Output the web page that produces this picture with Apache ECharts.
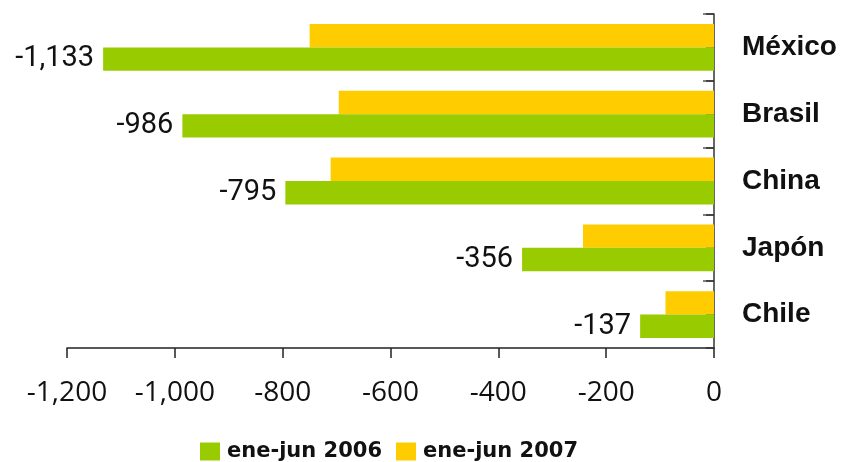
<!DOCTYPE html>
<html>
<head>
<meta charset="utf-8">
<script src="https://cdn.jsdelivr.net/npm/echarts@6/dist/echarts.min.js"></script>
<style>html,body{margin:0;padding:0;background:#fff}#c{width:842px;height:462px}</style>
</head>
<body>
<div id="c"></div>
<script>
const categories = ["México", "Brasil", "China", "Japón", "Chile"];
const series2006 = [-1133, -986, -795, -356, -137];
const series2007 = [-750, -696, -711, -243, -90];
const seriesNames = ["ene-jun 2006", "ene-jun 2007"];
const xTicks = { min: -1200, max: 0, interval: 200 };

const fmt = v => {
  const s = Math.abs(v).toString().replace(/\B(?=(\d{3})+(?!\d))/g, ",");
  return (v < 0 ? "-" : "") + s;
};

const chart = echarts.init(document.getElementById('c'), null, { renderer: 'canvas' });
chart.setOption({
  animation: false,
  backgroundColor: '#fff',
  grid: { left: 67, right: 128, top: 14, bottom: 114, containLabel: false },
  legend: {
    data: seriesNames,
    left: 195, top: 436,
    itemWidth: 20, itemHeight: 18, itemGap: 14,
    textStyle: { fontFamily: 'DejaVu Sans', fontSize: 21, fontWeight: 'bold', color: '#111', padding: [0, 0, 0, 2] },
    icon: 'rect'
  },
  xAxis: {
    type: 'value',
    min: xTicks.min, max: xTicks.max, interval: xTicks.interval,
    splitLine: { show: false },
    axisLine: { show: true, lineStyle: { color: '#222', width: 1.5 } },
    axisTick: { show: true, length: 10, lineStyle: { color: '#222', width: 1.5 } },
    axisLabel: { margin: 31, fontFamily: 'Open Sans', fontSize: 28, color: '#111', formatter: fmt }
  },
  yAxis: [{
    type: 'category',
    data: categories,
    inverse: true,
    position: 'right',
    axisLine: { show: true, lineStyle: { color: '#333', width: 1.5 } },
    axisTick: { show: true, inside: true, length: 11, lineStyle: { color: '#555', width: 1.5 } },
    axisLabel: { margin: 28, fontFamily: 'Liberation Sans', fontWeight: 'bold', fontSize: 28, color: '#111', align: 'left' }
  }, {
    type: 'category',
    data: ['', '', '', '', '', '', '', '', '', ''],
    inverse: true,
    position: 'right',
    axisLine: { show: false },
    axisTick: { show: true, inside: true, length: 8, lineStyle: { color: '#333', width: 1.5 } },
    axisLabel: { show: false }
  }],
  series: [{
    name: seriesNames[1],
    type: 'bar',
    data: series2007,
    yAxisIndex: 0,
    itemStyle: { color: '#FFCC00' },
    barGap: '0%', barCategoryGap: '30%'
  }, {
    name: seriesNames[0],
    type: 'bar',
    data: series2006,
    yAxisIndex: 0,
    itemStyle: { color: '#99CC00' },
    barGap: '0%', barCategoryGap: '30%',
    label: { show: true, position: 'left', distance: 9, fontFamily: 'Roboto', fontSize: 29, color: '#111', formatter: p => fmt(p.value) }
  }]
});
</script>
</body>
</html>
